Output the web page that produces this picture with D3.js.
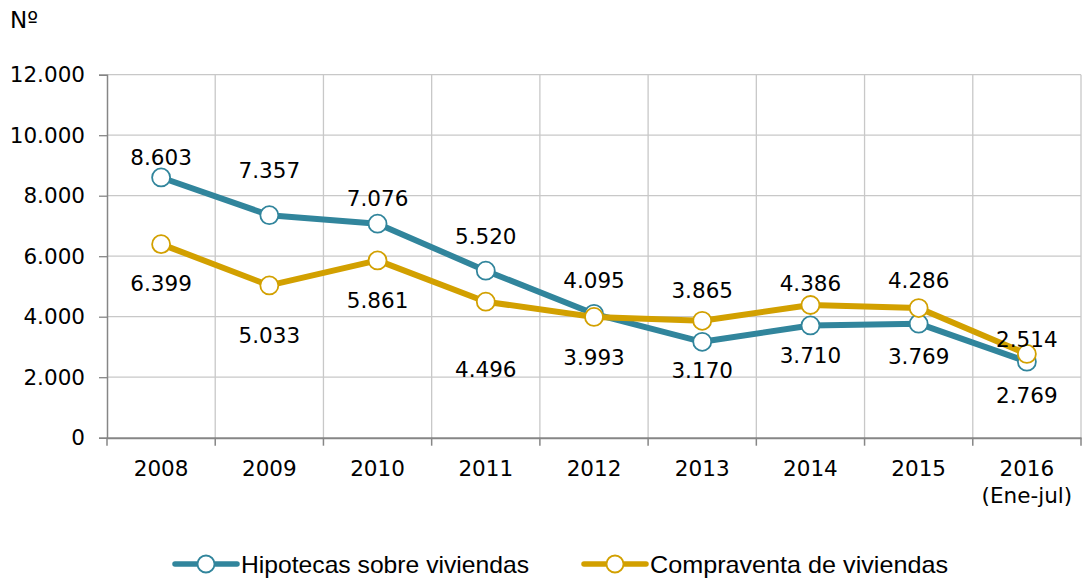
<!DOCTYPE html>
<html><head><meta charset="utf-8">
<script src="https://cdn.jsdelivr.net/npm/d3@7"></script>
<style>
body{margin:0;background:#fff;}
svg{display:block;}
</style></head>
<body>
<svg id="chart" width="1082" height="578"></svg>
<script>
const categories = ["2008","2009","2010","2011","2012","2013","2014","2015","2016"];
const categorySub = ["","","","","","","","","(Ene-jul)"];
const hipotecas = [8603,7357,7076,5520,4095,3170,3710,3769,2514];
const compraventa = [6399,5033,5861,4496,3993,3865,4386,4286,2769];
const yTicks = [0,2000,4000,6000,8000,10000,12000];
const seriesNames = ["Hipotecas sobre viviendas","Compraventa de viviendas"];
// label vertical offsets (px, layout only)
const hipLabelDy = [-20,-45,-25,-34,-34,28,30,33,-22];
const comLabelDy = [39,50,40,68,40,-31,-22,-28,41];

(function(){
const colors = ["#31859C","#D2A000"];
const svg = d3.select("#chart");
const pL = 107, pR = 1081, pT = 74.7, pB = 437.7;
const fmt = v => d3.format(",")(v).replace(/,/g,".");

const x = d3.scaleBand().domain(categories).range([pL,pR]).padding(0);
const y = d3.scaleLinear().domain([0,12000]).range([pB,pT]);
const font = "'DejaVu Sans', Verdana, sans-serif";
const fs = 21.5;

// horizontal gridlines
svg.append("g").selectAll("line").data(yTicks.filter(d=>d>0)).join("line")
  .attr("x1",pL).attr("x2",pR).attr("y1",d=>y(d)).attr("y2",d=>y(d))
  .attr("stroke","#c8c8c8").attr("stroke-width",1.3);
// vertical gridlines
const bounds = categories.map(c=>x(c)).slice(1).concat([pR]);
svg.append("g").selectAll("line").data(bounds).join("line")
  .attr("x1",d=>d).attr("x2",d=>d).attr("y1",pT).attr("y2",pB)
  .attr("stroke","#c8c8c8").attr("stroke-width",1.3);

// y axis
const yAxis = svg.append("g").attr("transform",`translate(${pL},0)`)
  .call(d3.axisLeft(y).tickValues(yTicks).tickSize(8).tickPadding(14).tickFormat(fmt));
yAxis.select(".domain").attr("stroke","#868686").attr("stroke-width",1.5);
yAxis.selectAll(".tick line").attr("stroke","#868686").attr("stroke-width",1.3);
yAxis.selectAll("text").attr("font-family",font).attr("font-size",fs).attr("fill","#000");

// x axis
const xAxis = svg.append("g").attr("transform",`translate(0,${pB})`)
  .call(d3.axisBottom(x).tickSize(0).tickPadding(0));
xAxis.select(".domain").attr("stroke","#868686").attr("stroke-width",2);
xAxis.selectAll(".tick text").remove();
xAxis.selectAll(".tick line").remove();
const tickPos = [pL].concat(bounds);
xAxis.selectAll(".xt").data(tickPos).join("line").attr("class","xt")
  .attr("x1",d=>d).attr("x2",d=>d).attr("y1",0).attr("y2",8)
  .attr("stroke","#868686").attr("stroke-width",1.5);
xAxis.selectAll(".xl").data(categories).join("text").attr("class","xl")
  .attr("x",d=>x(d)+x.bandwidth()/2).attr("y",38)
  .attr("text-anchor","middle").attr("font-family",font).attr("font-size",fs).attr("fill","#000")
  .text(d=>d);
xAxis.selectAll(".xs").data(categories).join("text").attr("class","xs")
  .attr("x",d=>x(d)+x.bandwidth()/2).attr("y",65)
  .attr("text-anchor","middle").attr("font-family",font).attr("font-size",fs).attr("fill","#000")
  .text((d,i)=>categorySub[i]);

// Nº
svg.append("text").attr("x",10).attr("y",28).attr("font-family",font).attr("font-size",23).text("Nº");

const cx = c => x(c)+x.bandwidth()/2;
const line = d3.line().x((d,i)=>cx(categories[i])).y(d=>y(d));

const series = [
  {vals:hipotecas, dy:hipLabelDy, color:colors[0]},
  {vals:compraventa, dy:comLabelDy, color:colors[1]}
];
series.forEach(s=>{
  svg.append("path").datum(s.vals).attr("d",line).attr("fill","none")
    .attr("stroke",s.color).attr("stroke-width",6).attr("stroke-linejoin","round");
  svg.append("g").selectAll("circle").data(s.vals).join("circle")
    .attr("cx",(d,i)=>cx(categories[i])).attr("cy",d=>y(d)).attr("r",9)
    .attr("fill","#fff").attr("stroke",s.color).attr("stroke-width",1.8);
});
series.forEach(s=>{
  svg.append("g").selectAll("text").data(s.vals).join("text")
    .attr("x",(d,i)=>cx(categories[i])).attr("y",(d,i)=>y(d)+s.dy[i])
    .attr("dy","0.36em").attr("text-anchor","middle")
    .attr("font-family",font).attr("font-size",fs).attr("fill","#000")
    .text(d=>fmt(d));
});

// legend
const legX = [175, 584];
const legW = [288, 298];
const lg = svg.append("g");
seriesNames.forEach((n,i)=>{
  const g = lg.append("g").attr("transform",`translate(${legX[i]},564)`);
  g.append("line").attr("x1",0).attr("x2",62).attr("y1",0).attr("y2",0)
    .attr("stroke",colors[i]).attr("stroke-width",5.5).attr("stroke-linecap","round");
  g.append("circle").attr("cx",31).attr("cy",0).attr("r",8.5)
    .attr("fill","#fff").attr("stroke",colors[i]).attr("stroke-width",1.8);
  g.append("text").attr("x",66).attr("y",9)
    .attr("font-family","'Liberation Sans',Arial,sans-serif")
    .attr("font-size",24).attr("fill","#000")
    .attr("textLength",legW[i]).attr("lengthAdjust","spacingAndGlyphs").text(n);
});
})();
</script>
</body></html>
